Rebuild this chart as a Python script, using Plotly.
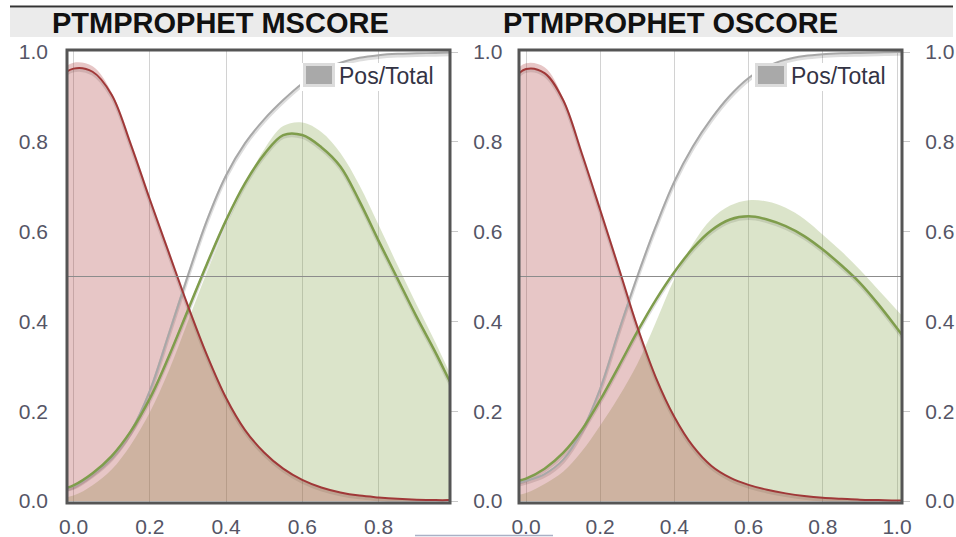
import plotly.graph_objects as go

# ---------------- data ----------------
X_GRID = [-0.05, 0.00, 0.05, 0.10, 0.15, 0.20, 0.25, 0.30, 0.35, 0.40, 0.45, 0.50,
          0.55, 0.60, 0.65, 0.70, 0.75, 0.80, 0.85, 0.90, 0.95, 1.00, 1.05]

NEG_LINE_MSCORE = [0.935, 0.963, 0.956, 0.905, 0.795, 0.672, 0.553, 0.435, 0.325, 0.230, 0.158, 0.108,
                   0.072, 0.047, 0.030, 0.019, 0.012, 0.008, 0.005, 0.003, 0.002, 0.002, 0.002]
NEG_FILL_MSCORE = [0.948, 0.976, 0.968, 0.910, 0.795, 0.672, 0.553, 0.435, 0.325, 0.230, 0.158, 0.108,
                   0.072, 0.047, 0.030, 0.019, 0.012, 0.008, 0.005, 0.003, 0.002, 0.002, 0.002]
POS_LINE_MSCORE = [0.022, 0.035, 0.062, 0.100, 0.155, 0.228, 0.322, 0.425, 0.528, 0.625, 0.708, 0.772,
                   0.815, 0.815, 0.788, 0.745, 0.668, 0.580, 0.495, 0.410, 0.330, 0.245, 0.170]
POS_FILL_MSCORE = [0.005, 0.012, 0.035, 0.070, 0.125, 0.197, 0.290, 0.400, 0.510, 0.613, 0.705, 0.783,
                   0.835, 0.843, 0.822, 0.775, 0.703, 0.615, 0.525, 0.437, 0.352, 0.262, 0.180]
RATIO_MSCORE = [0.025, 0.033, 0.060, 0.097, 0.155, 0.245, 0.372, 0.502, 0.625, 0.725, 0.797, 0.850,
                0.893, 0.930, 0.958, 0.976, 0.987, 0.993, 0.996, 0.997, 0.998, 0.999, 0.999]

NEG_LINE_OSCORE = [0.925, 0.962, 0.953, 0.893, 0.775, 0.648, 0.519, 0.388, 0.275, 0.187, 0.122, 0.078,
                   0.052, 0.036, 0.025, 0.017, 0.011, 0.007, 0.005, 0.003, 0.002, 0.001, 0.001]
NEG_FILL_OSCORE = [0.940, 0.975, 0.966, 0.898, 0.775, 0.648, 0.519, 0.388, 0.275, 0.187, 0.122, 0.078,
                   0.052, 0.036, 0.025, 0.017, 0.011, 0.007, 0.005, 0.003, 0.002, 0.001, 0.001]
POS_LINE_OSCORE = [0.040, 0.050, 0.072, 0.107, 0.158, 0.225, 0.300, 0.377, 0.448, 0.510, 0.563, 0.603,
                   0.627, 0.634, 0.627, 0.612, 0.590, 0.560, 0.525, 0.486, 0.438, 0.385, 0.330]
POS_FILL_OSCORE = [0.010, 0.018, 0.038, 0.065, 0.110, 0.168, 0.232, 0.305, 0.398, 0.495, 0.573, 0.628,
                   0.658, 0.670, 0.667, 0.653, 0.628, 0.593, 0.556, 0.515, 0.470, 0.425, 0.380]
RATIO_OSCORE = [0.035, 0.045, 0.060, 0.092, 0.155, 0.250, 0.378, 0.500, 0.612, 0.712, 0.790, 0.852,
                0.903, 0.942, 0.968, 0.983, 0.991, 0.995, 0.997, 0.998, 0.999, 1.000, 1.000]

TITLES = ["PTMPROPHET MSCORE", "PTMPROPHET OSCORE"]
LEGEND_LABEL = "Pos/Total"
THRESHOLD = 0.5
TICK_STEP = 0.2

# ---------------- styling ----------------
W, H = 956, 537
def px(x):
    return x / W
def py(y):
    return 1 - y / H

FONT = "Liberation Sans, Arial, sans-serif"
TF = dict(family=FONT, size=21, color="#555566")
RED = "#a03838"
GREEN = "#7f9d4c"
GRAY = "#a8a8a8"
RED_FILL = "rgba(175,65,65,0.30)"
GREEN_FILL = "rgba(137,165,78,0.30)"
SHADOW = "rgba(0,0,0,0.13)"

Y_DOM = [py(503), py(50)]
YR = [-0.00445, 1.00445]
SH = 2.0 / 449  # shadow offset (2 px)

fig = go.Figure()


def add_panel(xa, ya_shadow, ya_data, xs, neg_line, neg_fill, pos_line, pos_fill, ratio):
    spl = dict(shape="spline", smoothing=1.0)
    for ys in (ratio, pos_line, neg_line):
        fig.add_trace(go.Scatter(x=xs, y=ys, mode="lines", xaxis=xa, yaxis=ya_shadow,
                                 line=dict(color=SHADOW, width=3.5, **spl),
                                 hoverinfo="skip", showlegend=False))
    fig.add_trace(go.Scatter(x=xs, y=pos_fill, mode="lines", fill="tozeroy", fillcolor=GREEN_FILL,
                             line=dict(width=0, color="rgba(0,0,0,0)", **spl),
                             xaxis=xa, yaxis=ya_data, hoverinfo="skip", showlegend=False))
    fig.add_trace(go.Scatter(x=xs, y=neg_fill, mode="lines", fill="tozeroy", fillcolor=RED_FILL,
                             line=dict(width=0, color="rgba(0,0,0,0)", **spl),
                             xaxis=xa, yaxis=ya_data, hoverinfo="skip", showlegend=False))
    fig.add_trace(go.Scatter(x=xs, y=ratio, mode="lines", name=LEGEND_LABEL,
                             line=dict(color=GRAY, width=2, **spl),
                             xaxis=xa, yaxis=ya_data, showlegend=False))
    fig.add_trace(go.Scatter(x=xs, y=pos_line, mode="lines", name="Positive",
                             line=dict(color=GREEN, width=2.5, **spl),
                             xaxis=xa, yaxis=ya_data, showlegend=False))
    fig.add_trace(go.Scatter(x=xs, y=neg_line, mode="lines", name="Negative",
                             line=dict(color=RED, width=2, **spl),
                             xaxis=xa, yaxis=ya_data, showlegend=False))


add_panel("x", "y", "y3", X_GRID, NEG_LINE_MSCORE, NEG_FILL_MSCORE,
          POS_LINE_MSCORE, POS_FILL_MSCORE, RATIO_MSCORE)
add_panel("x2", "y2", "y4", X_GRID, NEG_LINE_OSCORE, NEG_FILL_OSCORE,
          POS_LINE_OSCORE, POS_FILL_OSCORE, RATIO_OSCORE)
# right-hand labels of the left panel
fig.add_trace(go.Scatter(x=[], y=[], xaxis="x", yaxis="y5", showlegend=False, hoverinfo="skip"))

common_x = dict(dtick=TICK_STEP, tick0=0, tickformat=".1f", showgrid=True, gridcolor="#d2d2d2",
                gridwidth=1, zeroline=False, showline=False, ticks="", ticklabelstandoff=9,
                tickfont=TF, automargin=False, fixedrange=True)
common_y = dict(range=YR, dtick=TICK_STEP, tick0=0, tickformat=".1f", showgrid=False,
                zeroline=False, showline=False, tickfont=TF, automargin=False, fixedrange=True)
right_y = dict(side="right", ticks="outside", ticklen=7, tickcolor="#c8c8c8", tickwidth=1,
               ticklabelstandoff=11)

fig.update_layout(
    template="none",
    width=W, height=H, margin=dict(l=0, r=0, t=0, b=0),
    paper_bgcolor="white", plot_bgcolor="white", showlegend=False,
    font=dict(family=FONT),
    xaxis=dict(domain=[px(67), px(450)], range=[-0.01705, 0.98754], anchor="y", **common_x),
    yaxis=dict(domain=Y_DOM, range=[YR[0] + SH, YR[1] + SH], anchor="x", visible=False,
               automargin=False, fixedrange=True),
    yaxis3=dict(overlaying="y", anchor="x", side="left", ticks="", ticklabelstandoff=18, **common_y),
    yaxis5=dict(overlaying="y", anchor="x", **right_y, **common_y),
    xaxis2=dict(domain=[px(519), px(902)], range=[-0.01887, 1.01348], anchor="y2", **common_x),
    yaxis2=dict(domain=Y_DOM, range=[YR[0] + SH, YR[1] + SH], anchor="x2", visible=False,
                automargin=False, fixedrange=True),
    yaxis4=dict(overlaying="y2", anchor="x2", **right_y, **common_y),
)

shapes = [
    dict(type="rect", xref="paper", yref="paper", x0=px(10), x1=px(953), y0=py(37), y1=py(8),
         fillcolor="#ebebeb", line=dict(width=0), layer="below"),
    dict(type="line", xref="paper", yref="paper", x0=px(10), x1=px(953), y0=py(6.5), y1=py(6.5),
         line=dict(color="#333333", width=2)),
    dict(type="line", xref="paper", yref="paper", x0=px(415), x1=px(553), y0=py(535.5), y1=py(535.5),
         line=dict(color="#a9b1c6", width=1.5)),
]
annotations = []
for i, (xa, ya) in enumerate((("x", "y3"), ("x2", "y4"))):
    off = i * 452
    shapes.append(dict(type="line", xref=f"{xa} domain", yref=ya, x0=0, x1=1, y0=THRESHOLD,
                       y1=THRESHOLD, line=dict(color="#8c8c8c", width=1.2), layer="above"))
    shapes.append(dict(type="rect", xref=f"{xa} domain", yref="paper", x0=0, x1=1,
                       y0=Y_DOM[0], y1=Y_DOM[1], line=dict(color="#555555", width=3),
                       layer="above"))
    # legend box
    shapes.append(dict(type="rect", xref="paper", yref="paper", x0=px(300 + off), x1=px(442 + off),
                       y0=py(91), y1=py(63), fillcolor="white", line=dict(width=0), layer="above"))
    shapes.append(dict(type="rect", xref="paper", yref="paper", x0=px(304.5 + off),
                       x1=px(333.5 + off), y0=py(85.5), y1=py(64.5), fillcolor="#a9a9a9",
                       line=dict(color="#dcdcdc", width=3), layer="above"))
    annotations.append(dict(xref="paper", yref="paper", x=px(337 + off), y=py(76),
                            xanchor="left", yanchor="middle", showarrow=False, text=LEGEND_LABEL,
                            font=dict(family=FONT, size=23, color="#333344")))
    annotations.append(dict(xref="paper", yref="paper", x=px(50 + i * 451), y=py(23),
                            xanchor="left", yanchor="middle", showarrow=False, text=TITLES[i],
                            font=dict(family=FONT, size=29, color="#111111", weight="bold")))

fig.update_layout(shapes=shapes, annotations=annotations)
fig.write_html("out.html")
